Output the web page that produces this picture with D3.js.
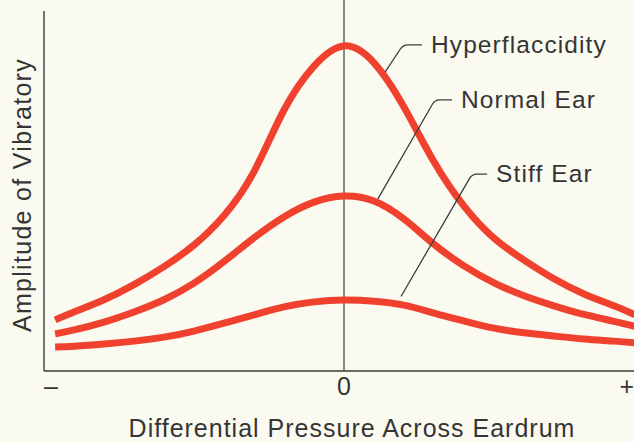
<!DOCTYPE html>
<html lang="en">
<head>
  <meta charset="UTF-8" />
  <title>Eardrum compliance</title>
  <script src="https://d3js.org/d3.v7.min.js"></script>
  <style>
    html, body { margin: 0; padding: 0; background: #fbfaf0; }
    svg { display: block; }
    text { font-family: "Liberation Sans", Arial, sans-serif; fill: #353535; }
  </style>
</head>
<body>
  <div id="chart"></div>

  <script>
    // values (pressure -1..+1, amplitude 0..10)
    var pressure = [-0.963, -0.9, -0.8, -0.7, -0.6, -0.5, -0.4, -0.3, -0.2, -0.1, 0,
      0.1, 0.2, 0.3, 0.4, 0.5, 0.6, 0.7, 0.8, 0.9, 0.97];
    var hyperflaccidity = [1.42, 1.64, 1.98, 2.4, 2.9, 3.5, 4.32, 5.54, 7.25, 8.47, 9.03,
      8.56, 7.33, 5.81, 4.58, 3.69, 3.08, 2.56, 2.14, 1.81, 1.56];
    var normalEar = [1.03, 1.14, 1.36, 1.64, 1.98, 2.44, 3.04, 3.7, 4.28, 4.69, 4.86,
      4.72, 4.22, 3.52, 2.92, 2.45, 2.09, 1.81, 1.57, 1.38, 1.24];
    var stiffEar = [0.67, 0.69, 0.75, 0.83, 0.94, 1.11, 1.33, 1.56, 1.78, 1.92, 1.97,
      1.94, 1.83, 1.61, 1.39, 1.19, 1.06, 0.97, 0.89, 0.83, 0.78];

    var seriesNames = ['Hyperflaccidity', 'Normal Ear', 'Stiff Ear'];
    var tickValues = [-1, 0, 1];
    var tickLabels = ['\u2013', '0', '+'];
    var xTitle = 'Differential Pressure Across Eardrum';
    var yTitle = 'Amplitude of Vibratory';

    // callout leaders, in data units: tip on the curve, elbow, end of the short tick
    var calloutTip = [[0.137, 8.3], [0.113, 4.78], [0.19, 2.07]];
    var calloutElbow = [[0.197, 9.06], [0.303, 7.53], [0.427, 5.47]];
    var calloutEnd = [0.26, 0.36, 0.477];

    var width = 634, height = 442;

    var x = d3.scaleLinear().domain([-1, 1]).range([44, 644]);
    var y = d3.scaleLinear().domain([0, 10]).range([371, 11]);

    var svg = d3.select('#chart').append('svg')
      .attr('width', width)
      .attr('height', height);

    svg.append('rect')
      .attr('width', width)
      .attr('height', height)
      .attr('fill', '#fbfaf0');

    // axes
    svg.append('line')
      .attr('x1', x(-1)).attr('x2', x(-1))
      .attr('y1', y(10)).attr('y2', y(0))
      .attr('stroke', '#3c3c3c').attr('stroke-width', 1.4);

    svg.append('line')
      .attr('x1', x(-1)).attr('x2', x(1))
      .attr('y1', y(0)).attr('y2', y(0))
      .attr('stroke', '#3c3c3c').attr('stroke-width', 1.4);

    svg.append('line')
      .attr('x1', x(0)).attr('x2', x(0))
      .attr('y1', 0).attr('y2', y(0))
      .attr('stroke', '#3c3c3c').attr('stroke-width', 1.2);

    // tick labels
    svg.selectAll('.tick-label')
      .data(tickValues)
      .enter().append('text')
      .attr('class', 'tick-label')
      .attr('x', (d, i) => Math.min(x(d), width))
      .attr('y', 395)
      .attr('text-anchor', (d, i) => i === 0 ? 'start' : (i === tickValues.length - 1 ? 'end' : 'middle'))
      .attr('font-size', 25)
      .text((d, i) => tickLabels[i]);

    // curves
    var series = [hyperflaccidity, normalEar, stiffEar];
    var line = d3.line()
      .x((d, i) => x(pressure[i]))
      .y(d => y(d))
      .curve(d3.curveNatural);

    svg.selectAll('.curve')
      .data(series)
      .enter().append('path')
      .attr('class', 'curve')
      .attr('d', line)
      .attr('fill', 'none')
      .attr('stroke', '#f0412e')
      .attr('stroke-width', 7)
      .attr('stroke-linecap', 'butt');

    // callouts
    seriesNames.forEach((name, i) => {
      var tip = calloutTip[i], elbow = calloutElbow[i];
      var ex = x(elbow[0]), ey = y(elbow[1]);
      var tx = x(tip[0]), ty = y(tip[1]);
      var dx = ex - tx, dy = ey - ty, len = Math.sqrt(dx * dx + dy * dy);
      var bx = ex - dx / len * 5, by = ey - dy / len * 5;
      svg.append('path')
        .attr('d', 'M' + tx + ',' + ty + 'L' + bx + ',' + by +
          'Q' + ex + ',' + ey + ' ' + (ex + 5) + ',' + ey +
          'L' + x(calloutEnd[i]) + ',' + ey)
        .attr('fill', 'none')
        .attr('stroke', '#3c3c3c')
        .attr('stroke-width', 1.3);

      svg.append('text')
        .attr('x', x(calloutEnd[i]) + 9)
        .attr('y', ey + 8)
        .attr('font-size', 24.5)
        .attr('letter-spacing', 1.1)
        .text(name);
    });

    // axis titles
    svg.append('text')
      .attr('x', 352)
      .attr('y', 437)
      .attr('text-anchor', 'middle')
      .attr('font-size', 25)
      .attr('letter-spacing', 1)
      .text(xTitle);

    svg.append('text')
      .attr('transform', 'translate(31,195) rotate(-90)')
      .attr('text-anchor', 'middle')
      .attr('font-size', 25)
      .attr('letter-spacing', 1.3)
      .text(yTitle);
  </script>
</body>
</html>
